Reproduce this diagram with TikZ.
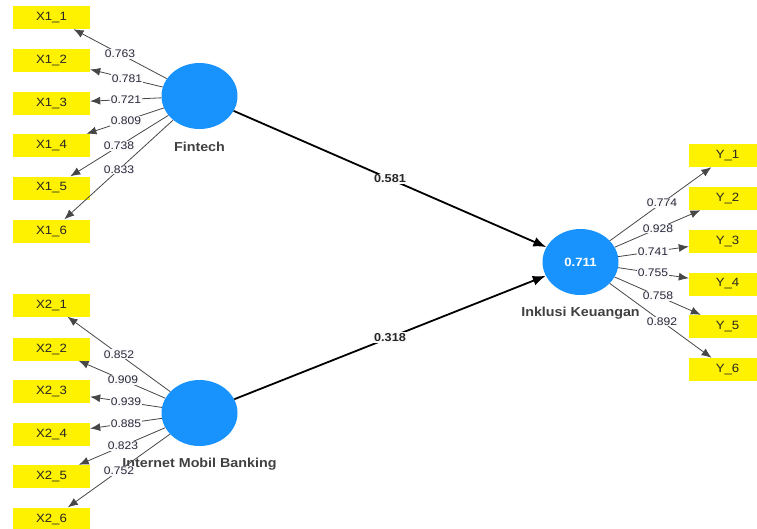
\documentclass[tikz,border=0pt]{standalone}
\usepackage{fontspec}
\setmainfont{Liberation Sans}[FakeStretch=1.1]
\usetikzlibrary{shapes.geometric,arrows.meta,positioning,calc}

\definecolor{lvblue}{RGB}{24,146,252}
\definecolor{ldtext}{RGB}{40,40,60}

\tikzset{
  ind/.style={fill=yellow, minimum width=77pt, minimum height=23pt, inner sep=0pt,
    font=\fontsize{12}{14}\selectfont, text=black!85},
  lv/.style={ellipse, fill=lvblue, minimum width=76pt, minimum height=66pt, inner sep=0pt},
  lvname/.style={font=\bfseries\fontsize{13}{15}\selectfont, text=black!75, inner sep=0pt},
  ld/.style={fill=white!96!gray, inner sep=1pt, font=\fontsize{11}{13}\selectfont, text=ldtext},
  pc/.style={fill=white!96!gray, inner sep=1pt, font=\bfseries\fontsize{11.5}{13}\selectfont, text=black!85},
  ldedge/.style={draw=black!72, line width=0.8pt, -{Latex[length=10pt,width=8pt]}},
  pathedge/.style={draw=black, line width=1.8pt, -{Latex[length=13pt,width=10pt]}},
}

\begin{document}
\begin{tikzpicture}[x=1pt,y=-1pt]
    \useasboundingbox (0,0) rectangle (757,528);
    % latent variables
    \node[lv] (fin) at (199.5,96) {};
    \node[lv] (imb) at (199.5,413) {};
    \node[lv] (ik) at (580.5,262) {\color{white}\bfseries\fontsize{12}{14}\selectfont 0.711};
    \node[lvname, below=13pt of fin] (finname) {Fintech};
    \node[lvname, below=12pt of imb] (imbname) {Internet Mobil Banking};
    \node[lvname, below=12pt of ik] (ikname) {Inklusi Keuangan};
    % indicators
    \foreach \i/\yy in {1/17.5,2/60,3/103,4/145.5,5/188,6/231}
        \node[ind] (x1\i) at (51.5,\yy) {X1\_\i};
    \foreach \i/\yy in {1/305,2/349,3/391,4/434,5/476.5,6/519}
        \node[ind] (x2\i) at (51.5,\yy) {X2\_\i};
    \foreach \i/\yy in {1/155.5,2/198.5,3/241,4/284,5/326.5,6/369.5}
        \node[ind] (y\i) at (727.5,\yy) {Y\_\i};
    % outer model
    \foreach \i in {1,...,6} {
        \draw[ldedge] (fin) -- (x1\i);
        \draw[ldedge] (imb) -- (x2\i);
        \draw[ldedge] (ik) -- (y\i);
    }
    % inner model
    \draw[pathedge] (fin) -- (ik);
    \draw[pathedge] (imb) -- (ik);
    \node[pc] at ($(fin)!0.5!(ik)$) {0.581};
    \node[pc] at ($(imb)!0.5!(ik)$) {0.318};
    % loadings
    \foreach \i/\v/\t in {1/0.763/0.537,2/0.781/0.49,3/0.721/0.497,4/0.809/0.497,5/0.738/0.544,6/0.833/0.544}
        \node[ld] at ($(fin)!\t!(x1\i)$) {\v};
    \foreach \i/\v/\t in {1/0.852/0.544,2/0.909/0.517,3/0.939/0.497,4/0.885/0.497,5/0.823/0.517,6/0.752/0.544}
        \node[ld] at ($(imb)!\t!(x2\i)$) {\v};
    \foreach \i/\v/\t in {1/0.774/0.554,2/0.928/0.527,3/0.741/0.493,4/0.755/0.493,5/0.758/0.527,6/0.892/0.554}
        \node[ld] at ($(ik)!\t!(y\i)$) {\v};
\end{tikzpicture}
\end{document}
